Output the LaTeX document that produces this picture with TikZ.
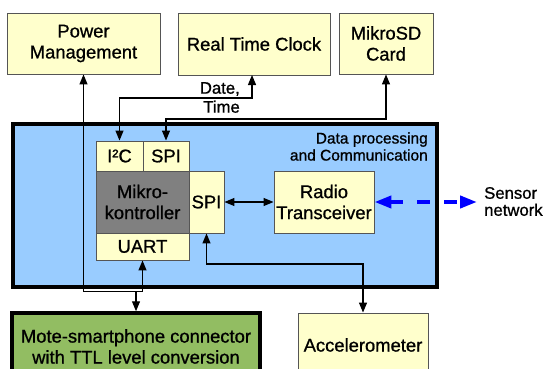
\documentclass[tikz,border=0pt]{standalone}
\usepackage{fontspec}
\setmainfont{Liberation Sans}[FakeBold=0.9]
\usetikzlibrary{arrows.meta}
\definecolor{boxyellow}{HTML}{FFFFCC}
\definecolor{boxborder}{HTML}{555555}
\definecolor{dpblue}{HTML}{99CCFF}
\definecolor{mcgray}{HTML}{808080}
\definecolor{motegreen}{HTML}{92BD62}
\definecolor{netblue}{HTML}{0000FF}
\tikzset{
  mainfont/.style={font=\fontsize{18.4}{21}\selectfont},
  ybox/.style={draw=boxborder, line width=0.9pt, fill=boxyellow, rectangle, inner sep=0pt, align=center, mainfont},
  arr/.style={line width=1.2pt, -{Triangle[length=10pt,width=8pt]}},
  darr/.style={line width=1.2pt, {Triangle[length=10pt,width=8pt]}-{Triangle[length=10pt,width=8pt]}},
  netarr/.style={netblue, line width=4pt, dash pattern=on 13pt off 14pt,
    {Triangle[length=17pt,width=12pt]}-{Triangle[length=17pt,width=12pt]}},
  lbl/.style={inner sep=0pt, align=center},
}
\begin{document}
\begin{tikzpicture}[x=1pt,y=-1pt]
\path[use as bounding box, clip] (0,0) rectangle (543,369);
\fill[white] (0,0) rectangle (543,369);

% top boxes
\node[ybox, minimum width=153pt, minimum height=61pt] (pm) at (83.5,43.5) {Power\\Management};
\node[ybox, minimum width=152pt, minimum height=62pt] (rtc) at (254,44) {Real Time Clock};
\node[ybox, minimum width=94pt, minimum height=61pt] (sd) at (386,43.5) {MikroSD\\Card};

% data processing box (fill)
\node[fill=dpblue, rectangle, inner sep=0pt, minimum width=424pt, minimum height=163pt] (dp) at (225,205.5) {};

% inner boxes
\node[ybox, minimum width=47pt, minimum height=30pt] (i2c) at (119.5,156) {I²C};
\node[ybox, minimum width=46pt, minimum height=30pt] (spit) at (166,156) {SPI};
\node[draw=boxborder, line width=0.9pt, fill=mcgray, rectangle, inner sep=0pt, align=center, mainfont,
      minimum width=93pt, minimum height=62pt] (mk) at (142.5,202) {Mikro-\\kontroller};
\node[ybox, minimum width=93pt, minimum height=27pt] (uart) at (142.5,246.5) {UART};
\node[ybox, minimum width=35pt, minimum height=62pt] (spir) at (206.5,202) {SPI};
\node[ybox, minimum width=100pt, minimum height=62pt] (radio) at (324,202) {Radio\\Transceiver};

% label of the data processing box
\node[lbl, align=right, anchor=east, font=\fontsize{15.5}{17}\selectfont] (dplbl) at (428,146.5) {Data processing\\and Communication};

% bottom boxes
\node[draw=black, line width=3.5pt, fill=motegreen, rectangle, inner sep=0pt, align=center, mainfont,
      minimum width=248pt, minimum height=67pt] (mote) at (136,346.5) {Mote-smartphone connector\\with TTL level conversion};
\node[ybox, minimum width=130pt, minimum height=64pt] (acc) at (363,345) {Accelerometer};

% sensor network
\coordinate (sn) at (477,202);
\node[lbl, anchor=west, align=left, font=\fontsize{16.7}{17}\selectfont] (snl) at (484,201.5) {Sensor\\network};
\draw[netarr] (radio.east) -- (sn);

% border of data processing box
\draw[line width=3.5pt] (dp.north west) rectangle (dp.south east);

% connectors
\coordinate (j) at (142.5,291.5);
\draw[arr] (j) -- (uart.south);
\draw[arr] (j) -| (pm.south);
\draw[arr] (mote.north |- j) -- (mote.north);

\coordinate (rtcb) at (252,75);
\draw[darr] (i2c.north) |- (252,98) -- (rtcb);
\node[lbl, align=right, anchor=east, font=\fontsize{16.7}{19}\selectfont] (dt) at (240,97.5) {Date,\\Time};

\draw[darr] (spit.north) |- (386,119) -- (sd.south);

\draw[darr] (spir.east) -- (radio.west);

\draw[darr] (spir.south) |- (363,264) -- (acc.north);
\end{tikzpicture}
\end{document}
